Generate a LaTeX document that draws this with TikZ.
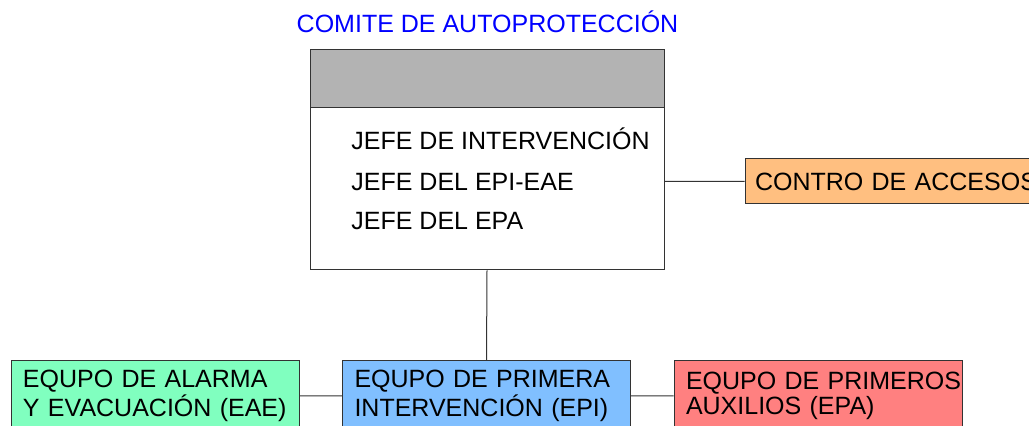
\documentclass[tikz,border=0pt]{standalone}
\usepackage{fontspec}
\setmainfont{Liberation Sans}

\definecolor{gris}{HTML}{B3B3B3}
\definecolor{naranja}{HTML}{FFBF80}
\definecolor{verde}{HTML}{80FFBF}
\definecolor{azul}{HTML}{80BFFF}
\definecolor{rojo}{HTML}{FF8080}

\begin{document}
\begin{tikzpicture}[x=0.5pt,y=-0.5pt,font=\fontsize{12.5}{12.5}\selectfont]
			\tikzstyle{caja}=[rectangle,draw=black!80,line width=0.5pt,inner ysep=0pt]
			\tikzstyle{equipo}=[caja,minimum width=144pt,minimum height=35pt,inner xsep=6pt,text width=132pt,align=left]
			\tikzstyle{cargo}=[anchor=base west,inner sep=0pt]
			\clip (0,0) rectangle (1029,426);
				\node[anchor=base,text=blue,inner sep=0pt](titulo) at (487.5,33){COMITE DE AUTOPROTECCIÓN};
				\node[caja,minimum width=177pt,minimum height=110pt](comite) at (487,160){};
				\node[caja,fill=gris,minimum width=177pt,minimum height=29pt](cabecera) at (487,79){};
				\node[cargo](jefe1) at (351,150){JEFE DE INTERVENCIÓN};
				\node[cargo](jefe2) at (351,191){JEFE DEL EPI-EAE};
				\node[cargo](jefe3) at (351,230){JEFE DEL EPA};
				\node[caja,fill=naranja,minimum width=152.5pt,minimum height=22.5pt,inner xsep=5pt,text width=142.5pt,align=left](accesos) at (897.5,181.5){CONTRO DE ACCESOS};
				\node[equipo,fill=verde](eae) at (155,396){EQUPO DE ALARMA\\Y EVACUACIÓN (EAE)};
				\node[equipo,fill=azul](epi) at (486.5,396){EQUPO DE PRIMERA\\INTERVENCIÓN (EPI)};
				\node[equipo,fill=rojo](epa) at (818,396){\mbox{EQUPO DE PRIMEROS}\\AUXILIOS (EPA)};
				\path[draw=black!80,line width=0.5pt]
					(accesos.west) -- (accesos.west -| comite.east)
					(comite.south) -- (epi.north)
					(eae.east) -- (epi.west)
					(epi.east) -- (epa.west);
			\end{tikzpicture}
\end{document}
